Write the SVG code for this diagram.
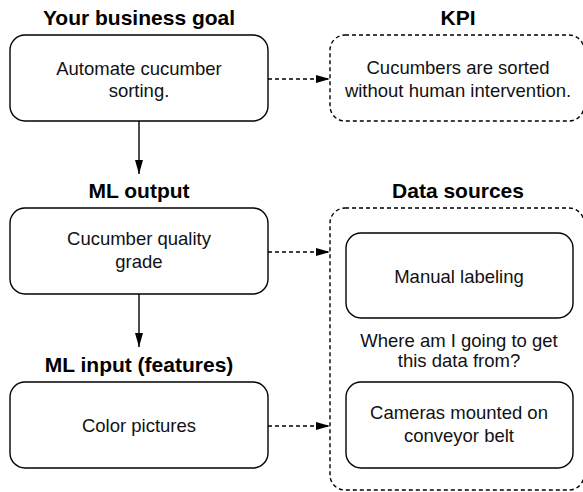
<svg xmlns="http://www.w3.org/2000/svg" width="583" height="492" viewBox="0 0 583 492">
<style>
.box{fill:#fff;stroke:#000;stroke-width:1.4}
.dbox{fill:#fff;stroke:#000;stroke-width:1.4;stroke-dasharray:4 3}
.t{font-family:"Liberation Sans",Arial,sans-serif;font-size:18.5px;fill:#111;text-anchor:middle}
.h{font-family:"Liberation Sans",Arial,sans-serif;font-size:21px;font-weight:bold;fill:#000;text-anchor:middle}
.c{stroke:#000;stroke-width:1.4;fill:none}
.dc{stroke:#000;stroke-width:1.4;fill:none;stroke-dasharray:4 3}
</style>
<defs>
<marker id="ah" markerWidth="14" markerHeight="8" refX="14" refY="4" orient="auto" markerUnits="userSpaceOnUse">
<path d="M0,0 L14,4 L0,8 Z" fill="#000"/>
</marker>
<marker id="av" markerWidth="8" markerHeight="14" refX="4" refY="14" orient="0" markerUnits="userSpaceOnUse">
<path d="M0,0 L8,0 L4,14 Z" fill="#000"/>
</marker>
</defs>
<rect width="583" height="492" fill="#fff"/>

<g id="goal">
<text class="h" x="139" y="25">Your business goal</text>
<rect class="box" x="10" y="35" width="258" height="86" rx="15"/>
<text class="t" x="139" y="75">Automate cucumber</text>
<text class="t" x="139" y="97">sorting.</text>
</g>

<g id="kpi">
<text class="h" x="458" y="25">KPI</text>
<rect class="dbox" x="330" y="35" width="254" height="86" rx="15"/>
<text class="t" x="458" y="74">Cucumbers are sorted</text>
<text class="t" x="458" y="97">without human intervention.</text>
</g>

<g id="mloutput">
<text class="h" x="139" y="198">ML output</text>
<rect class="box" x="10" y="208" width="258" height="86" rx="15"/>
<text class="t" x="139" y="245">Cucumber quality</text>
<text class="t" x="139" y="268">grade</text>
</g>

<g id="mlinput">
<text class="h" x="139" y="372">ML input (features)</text>
<rect class="box" x="10" y="382" width="258" height="86" rx="15"/>
<text class="t" x="139" y="432">Color pictures</text>
</g>

<g id="datasources">
<text class="h" x="458" y="198">Data sources</text>
<rect class="dbox" x="330" y="208" width="254" height="282" rx="15"/>
<text class="t" x="459" y="347">Where am I going to get</text>
<text class="t" x="459" y="367">this data from?</text>
</g>

<g id="manual">
<rect class="box" x="346" y="233" width="227" height="85" rx="15"/>
<text class="t" x="459" y="283">Manual labeling</text>
</g>

<g id="cameras">
<rect class="box" x="346" y="382" width="227" height="86" rx="15"/>
<text class="t" x="459" y="419">Cameras mounted on</text>
<text class="t" x="459" y="442">conveyor belt</text>
</g>

<g id="connectors">
<line class="c" x1="139" y1="121" x2="139" y2="174" marker-end="url(#av)"/>
<line class="c" x1="139" y1="294" x2="139" y2="347" marker-end="url(#av)"/>
<line class="dc" x1="268" y1="79" x2="330" y2="79" marker-end="url(#ah)"/>
<line class="dc" x1="268" y1="252" x2="330" y2="252" marker-end="url(#ah)"/>
<line class="dc" x1="268" y1="426" x2="330" y2="426" marker-end="url(#ah)"/>
</g>
</svg>
